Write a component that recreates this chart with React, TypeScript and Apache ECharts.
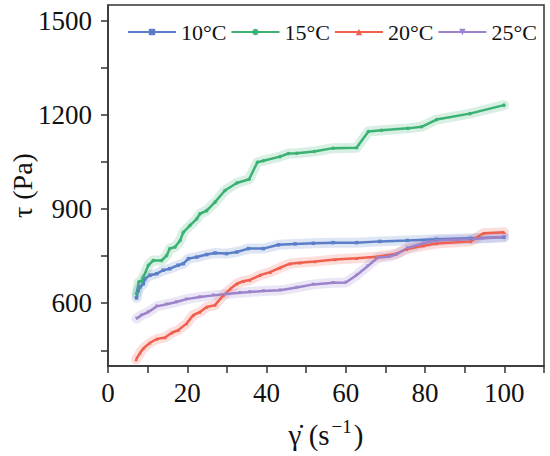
import React, { useEffect, useRef } from "react";
import * as echarts from "echarts";

const seriesNames = ["10°C", "15°C", "20°C", "25°C"];
const seriesColors = ["#5a7fc8", "#3bb273", "#f0604e", "#9d83cc"];
const glowColors = [
  "rgba(90,127,200,0.2)",
  "rgba(59,178,115,0.2)",
  "rgba(240,96,78,0.2)",
  "rgba(157,131,204,0.2)",
];

const data10: number[][] = [
  [7.2, 617], [7.6, 640], [8.1, 652], [8.9, 662], [9.3, 678], [10.6, 689], [12.3, 694],
  [13.9, 705], [15.6, 710], [17.7, 721], [19, 726], [20.3, 742], [22.4, 747], [24.9, 755],
  [27, 760], [29.9, 758], [32.5, 763], [35.4, 774], [39.2, 774], [43, 786], [47.2, 789],
  [51.8, 791], [56.8, 793], [62.7, 793], [68.6, 797], [75.5, 800], [82.9, 804], [91.3, 807],
  [99.9, 810],
];

const data15: number[][] = [
  [7.2, 631], [7.8, 668], [8.5, 671], [8.9, 683], [10.2, 721], [11.4, 736], [13.5, 736],
  [14.8, 752], [15.6, 774], [16.9, 779], [18.2, 800], [19, 826], [20.7, 848], [22.4, 869],
  [23.2, 885], [24.9, 895], [27, 922], [29.5, 959], [32.5, 983], [35.6, 995], [37.7, 1049],
  [39.2, 1054], [43.4, 1067], [45.5, 1077], [47.6, 1078], [52, 1083], [56.8, 1094],
  [62.7, 1095], [65.7, 1147], [69, 1151], [75.7, 1157], [79.1, 1162], [82.9, 1185],
  [91.3, 1204], [99.9, 1231],
];

const data20: number[][] = [
  [7.1, 421], [8.1, 442], [8.9, 456], [10.6, 474], [12.3, 486], [14.4, 491], [16.1, 506],
  [17.7, 514], [19.8, 535], [21.5, 562], [23.2, 572], [24.9, 588], [27, 594], [29.1, 625],
  [30.8, 645], [32.5, 662], [34.1, 670], [35.8, 674], [38.3, 689], [40.9, 699], [43.4, 713],
  [45.9, 726], [48.4, 729], [52.2, 733], [57.3, 739], [62.7, 743], [67.8, 748], [72.8, 758],
  [75.3, 772], [79.5, 783], [82.9, 790], [91.5, 797], [94.7, 823], [99.9, 826],
];

const data25: number[][] = [
  [7.2, 551], [8.5, 562], [10.2, 572], [12.3, 590], [14.8, 597], [17.3, 604], [19.8, 613],
  [23.2, 620], [26.6, 625], [29.9, 629], [33.3, 633], [35.8, 636], [39.2, 639], [43.4, 641],
  [47.6, 650], [51.8, 660], [56.8, 665], [60, 666], [62.7, 689], [65.5, 718], [68, 745],
  [71.1, 749], [72.8, 756], [75.5, 776], [79.5, 791], [82.9, 800], [91.3, 804], [99.9, 811],
];

const allData = [data10, data15, data20, data25];
const symbols = ["rect", "circle", "triangle", "triangle"];
const symbolRotates = [0, 0, 0, 180];

const xTickValues = [0, 10, 20, 30, 40, 50, 60, 70, 80, 90, 100, 110];
const xLabelValues = [0, 20, 40, 60, 80, 100];
const yTickValues = [450, 600, 750, 900, 1050, 1200, 1350, 1500];
const yLabelValues = [600, 900, 1200, 1500];

const FONT = "'Liberation Serif', 'Times New Roman', Times, serif";

export default function App() {
  const ref = useRef<HTMLDivElement>(null);
  useEffect(() => {
    if (!ref.current) return;
    const chart = echarts.init(ref.current, undefined, { renderer: "svg" });
    const glowSeries = allData.map((d, i) => ({
      name: seriesNames[i] + " glow",
      type: "line",
      data: d,
      showSymbol: false,
      symbol: "none",
      silent: true,
      lineStyle: { color: glowColors[i], width: 10, cap: "round", join: "round" },
      itemStyle: { color: glowColors[i] },
      z: 1,
    }));
    const mainSeries = allData.map((d, i) => ({
      name: seriesNames[i],
      type: "line",
      data: d,
      symbol: symbols[i],
      symbolRotate: symbolRotates[i],
      symbolSize: 3.5,
      lineStyle: { color: seriesColors[i], width: 2.5 },
      itemStyle: { color: seriesColors[i] },
      z: 3,
    }));
    chart.setOption({
      animation: false,
      backgroundColor: "#ffffff",
      textStyle: { fontFamily: FONT },
      grid: {
        left: 108,
        right: 6,
        top: 5,
        bottom: 90,
        containLabel: false,
        outerBoundsMode: "none",
        show: true,
        borderColor: "#333",
        borderWidth: 1.5,
        backgroundColor: "transparent",
      },
      legend: {
        data: seriesNames.map((n) => ({ name: n, itemStyle: { opacity: 1 } })),
        left: 122,
        top: 16,
        itemWidth: 48,
        itemHeight: 8,
        itemGap: 4,
        textStyle: { fontFamily: FONT, fontSize: 22, color: "#111" },
      },
      xAxis: {
        type: "value",
        min: 0,
        max: 110,
        interval: 10,
        name: "{a|γ̇ (s}{sup|−1}{a|)}",
        nameLocation: "middle",
        nameGap: 51,
        nameMoveOverlap: false,
        nameTextStyle: {
          fontFamily: FONT,
          rich: {
            a: { fontFamily: FONT, fontSize: 29, color: "#111", verticalAlign: "bottom" },
            sup: {
              fontFamily: FONT,
              fontSize: 19,
              color: "#111",
              verticalAlign: "bottom",
              padding: [0, 2, 13, 2],
            },
          },
        },
        axisLine: { show: true, lineStyle: { color: "#333", width: 1.5 } },
        axisTick: {
          show: true,
          inside: false,
          length: 7,
          customValues: xTickValues,
          lineStyle: { color: "#333", width: 1.5 },
        },
        axisLabel: {
          customValues: xLabelValues,
          formatter: (v: number) => String(v),
          fontFamily: FONT,
          fontSize: 27,
          color: "#111",
          margin: 13,
        },
        splitLine: { show: false },
      },
      yAxis: {
        type: "value",
        min: 400,
        max: 1550,
        name: "τ (Pa)",
        nameLocation: "middle",
        nameGap: 72,
        nameMoveOverlap: false,
        nameRotate: 90,
        nameTextStyle: { fontFamily: FONT, fontSize: 28, color: "#111" },
        axisLine: { show: true, lineStyle: { color: "#333", width: 1.5 } },
        axisTick: {
          show: true,
          inside: false,
          length: 7,
          customValues: yTickValues,
          lineStyle: { color: "#333", width: 1.5 },
        },
        axisLabel: {
          customValues: yLabelValues,
          formatter: (v: number) => String(v),
          fontFamily: FONT,
          fontSize: 27,
          color: "#111",
          margin: 16,
        },
        splitLine: { show: false },
      },
      series: [...glowSeries, ...mainSeries],
    });
    return () => chart.dispose();
  }, []);
  return (
    <div
      ref={ref}
      style={{ position: "fixed", left: 0, top: 0, width: 550, height: 456 }}
    />
  );
}
